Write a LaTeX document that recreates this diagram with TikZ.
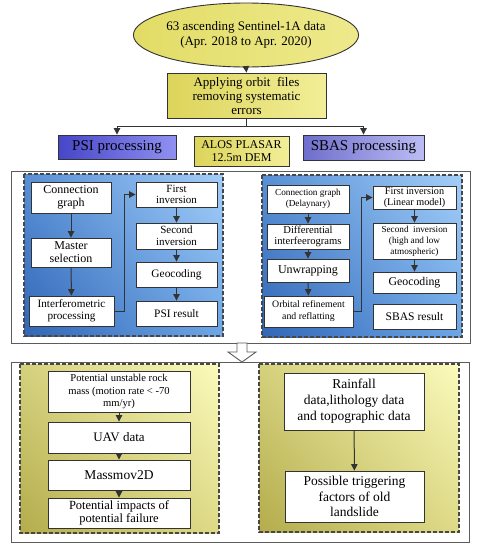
\documentclass[tikz,border=0pt]{standalone}
\usepackage{fontspec}
\setmainfont{Liberation Serif}
\usetikzlibrary{shapes.geometric,arrows.meta,shadings}
\newcommand\fsz[2]{\fontsize{#1}{#2}\selectfont}
\definecolor{ylA}{HTML}{DCD45A}
\definecolor{ylB}{HTML}{F2EE98}
\definecolor{elA}{HTML}{E2DC66}
\definecolor{elB}{HTML}{EEEA8C}
\definecolor{psiA}{HTML}{4646C8}
\definecolor{psiB}{HTML}{9090F2}
\definecolor{sbA}{HTML}{6E6ECC}
\definecolor{sbB}{HTML}{BCBCF4}
\definecolor{blLL}{HTML}{3266B6}
\definecolor{blUL}{HTML}{5890D6}
\definecolor{blLR}{HTML}{6CA6E6}
\definecolor{blUR}{HTML}{A4CEF8}
\definecolor{gyLL}{HTML}{B4AC4C}
\definecolor{gyUL}{HTML}{D4D07C}
\definecolor{gyLR}{HTML}{DEDA88}
\definecolor{gyUR}{HTML}{FBFBBC}
\definecolor{edge}{HTML}{333333}
\tikzset{
  wbox/.style={draw=edge, fill=white, line width=0.9pt, align=center, inner sep=0pt},
  arr/.style={draw=edge, line width=1pt, -{Triangle[length=6.5pt,width=6.5pt]}},
  ln/.style={draw=edge, line width=1pt},
  dashbox/.style={draw=edge!90, line width=1.1pt, dash pattern=on 4pt off 2pt},
  outer/.style={draw=edge!80, line width=0.9pt},
}
\begin{document}
\begin{tikzpicture}[x=1pt,y=-1pt]
\useasboundingbox (0,0) rectangle (481,550);
% ---- top part ----
\node[ellipse, draw=edge, line width=0.9pt, minimum width=174pt, minimum height=64pt, inner sep=0pt,
  left color=elA, right color=elB, align=center, font=\fsz{13}{15}] (ell) at (246,35)
  {63 ascending Sentinel-1A data\\(Apr. 2018 to Apr. 2020)};
\node[draw=edge, line width=0.9pt, minimum width=159pt, minimum height=45pt, inner sep=0pt,
  left color=ylA, right color=ylB, align=center, font=\fsz{13}{14}] (apply) at (246.5,95.5)
  {Applying orbit\ \ files\\removing systematic\\errors};
\node[draw=edge, line width=0.9pt, minimum width=118pt, minimum height=24pt, inner sep=0pt,
  left color=psiA, right color=psiB, font=\fsz{15}{16}] (psi) at (117,147) {PSI processing};
\node[draw=edge, line width=0.9pt, minimum width=95pt, minimum height=30pt, inner sep=0pt,
  left color=ylA, right color=ylB, align=center, font=\fsz{12}{13}] (alos) at (241.5,151)
  {ALOS PLASAR\\12.5m DEM};
\node[draw=edge, line width=0.9pt, minimum width=121pt, minimum height=25pt, inner sep=0pt,
  left color=sbA, right color=sbB, font=\fsz{15}{16}] (sbas) at (363.5,147.5) {SBAS processing};
\draw[arr] (ell.south) -- (apply.north);
\coordinate (split) at (246.5,126);
\draw[ln] (apply.south) -- (split);
\draw[arr] (split) -| (psi.north);
\draw[arr] (split) -| (sbas.north);
% ---- processing box ----
\draw[outer] (11,171) rectangle (470,343);
\shade[lower left=blLL, upper left=blUL, lower right=blLR, upper right=blUR] (24,174) rectangle (223,336);
\draw[dashbox] (24,174) rectangle (223,336);
\shade[lower left=blLL, upper left=blUL, lower right=blLR, upper right=blUR] (262,175) rectangle (462,337);
\draw[dashbox] (262,175) rectangle (462,337);
% left (PSI)
\node[wbox, minimum width=80pt, minimum height=31pt, font=\fsz{12}{13}] (lc1) at (71,197.5) {Connection\\graph};
\node[wbox, minimum width=80pt, minimum height=29pt, font=\fsz{12}{13}] (lc2) at (71,252.5) {Master\\selection};
\node[wbox, minimum width=85pt, minimum height=30pt, font=\fsz{11.2}{12.5}] (lc3) at (71.5,311) {Interferometric\\processing};
\node[wbox, minimum width=81pt, minimum height=25pt, font=\fsz{11}{11.5}] (lc4) at (176.5,194.5) {First\\inversion};
\node[wbox, minimum width=81pt, minimum height=26pt, font=\fsz{11}{12}] (lc5) at (176.5,236) {Second\\inversion};
\node[wbox, minimum width=81pt, minimum height=25pt, font=\fsz{11.4}{12}] (lc6) at (176.5,274.5) {Geocoding};
\node[wbox, minimum width=81pt, minimum height=25pt, font=\fsz{11.4}{12}] (lc7) at (176.5,313.5) {PSI result};
\draw[arr] (lc1) -- (lc2);
\draw[arr] (lc2) -- (lc3);
\draw[arr] (lc3.east) -- ++(10,0) |- (lc4.west);
\draw[arr] (lc4) -- (lc5);
\draw[arr] (lc5) -- (lc6);
\draw[arr] (lc6) -- (lc7);
% right (SBAS)
\node[wbox, minimum width=82pt, minimum height=28pt, font=\fsz{9.2}{11}] (rc1) at (308,199) {Connection graph\\(Delaynary)};
\node[wbox, minimum width=82pt, minimum height=25pt, font=\fsz{10.6}{11.5}] (rc2) at (308,236.5) {Differential\\interfeerograms};
\node[wbox, minimum width=82pt, minimum height=23pt, font=\fsz{12}{13}] (rc3) at (308,270.5) {Unwrapping};
\node[wbox, minimum width=89pt, minimum height=31pt, font=\fsz{9.8}{12}] (rc4) at (308.5,311.5) {Orbital refinement\\and reflatting};
\node[wbox, minimum width=83pt, minimum height=23pt, font=\fsz{10.2}{11}] (rc5) at (414.5,197.5) {First inversion\\(Linear model)};
\node[wbox, minimum width=83pt, minimum height=36pt, font=\fsz{9.2}{11}] (rc6) at (414.5,241) {Second\ \ inversion\\(high and low\\atmospheric)};
\node[wbox, minimum width=83pt, minimum height=21pt, font=\fsz{11.8}{12}] (rc7) at (414.5,282.5) {Geocoding};
\node[wbox, minimum width=83pt, minimum height=25pt, font=\fsz{11.6}{12}] (rc8) at (414.5,316.5) {SBAS result};
\draw[arr] (rc1) -- (rc2);
\draw[arr] (rc2) -- (rc3);
\draw[arr] (rc3) -- (rc4);
\draw[arr] (rc4.east) -- ++(8,0) |- (rc5.west);
\draw[arr] (rc5) -- (rc6);
\draw[arr] (rc6) -- (rc7);
% ---- hollow arrow ----
\draw[draw=edge!80, fill=white, line width=0.9pt, line join=miter]
  (237,343) -- (247,343) -- (247,352) -- (256,352) -- (242,362) -- (228,352) -- (237,352) -- cycle;
% ---- analysis box ----
\draw[outer] (11,362) rectangle (469,542);
\shade[lower left=gyLL, upper left=gyUL, lower right=gyLR, upper right=gyUR] (20,364) rectangle (219,533);
\draw[dashbox] (20,364) rectangle (219,533);
\shade[lower left=gyLL, upper left=gyUL, lower right=gyLR, upper right=gyUR] (259,364) rectangle (459,532);
\draw[dashbox] (259,364) rectangle (459,532);
\node[wbox, minimum width=142pt, minimum height=41pt, font=\fsz{10.6}{12.5}] (ly1) at (119,391.5) {Potential unstable rock\\mass (motion rate < -70\\mm/yr)};
\node[wbox, minimum width=142pt, minimum height=31pt, font=\fsz{13}{14}] (ly2) at (119,437.5) {UAV data};
\node[wbox, minimum width=142pt, minimum height=30pt, font=\fsz{13.5}{14}] (ly3) at (119,475) {Massmov2D};
\node[wbox, minimum width=142pt, minimum height=30pt, font=\fsz{12.5}{13.5}] (ly4) at (119,513) {Potential impacts of\\potential failure};
\draw[arr] (ly1) -- (ly2);
\draw[arr] (ly2) -- (ly3);
\draw[arr] (ly3) -- (ly4);
\node[wbox, minimum width=140pt, minimum height=57pt, font=\fsz{13.5}{16}] (ry1) at (354,401.5) {Rainfall\\data,lithology data\\and topographic data};
\node[wbox, minimum width=139pt, minimum height=51pt, font=\fsz{13.5}{15.5}] (ry2) at (354.5,496.5) {Possible triggering\\factors of old\\landslide};
\draw[arr] (ry1) -- (ry2);
\end{tikzpicture}
\end{document}
